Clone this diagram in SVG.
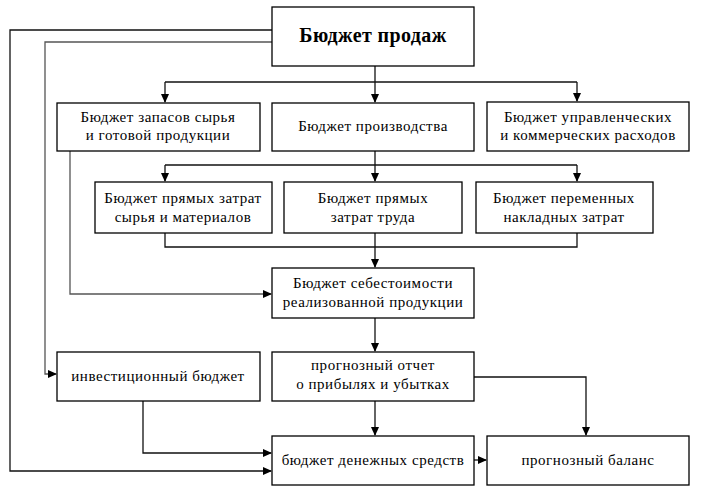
<svg xmlns="http://www.w3.org/2000/svg" width="705" height="495" viewBox="0 0 705 495">
<style>
.box{fill:#fff;stroke:#000;stroke-width:1.3}
.t{font-family:"Liberation Serif","Times New Roman","DejaVu Serif",serif;font-size:15px;letter-spacing:0.55px;fill:#000;text-anchor:middle}
.b{font-weight:bold;font-size:20px;letter-spacing:0.4px}
.c{fill:none;stroke:#111;stroke-width:1.3}
.g{stroke:#555}
</style>
<defs>
<marker id="ah" markerWidth="9" markerHeight="8" refX="8" refY="4" orient="auto" markerUnits="userSpaceOnUse">
<path d="M0,0 L9,4 L0,8 Z" fill="#000"/>
</marker>
</defs>
<rect width="705" height="495" fill="#fff"/>
<g id="connectors">
<path class="c" d="M272,30 H10 V471 H271" marker-end="url(#ah)"/>
<path class="c g" d="M272,42 H45 V374 H56" marker-end="url(#ah)"/>
<path class="c" d="M375,66 V82"/>
<path class="c" d="M165,82 H577"/>
<path class="c" d="M165,82 V102" marker-end="url(#ah)"/>
<path class="c" d="M375,82 V102" marker-end="url(#ah)"/>
<path class="c" d="M577,82 V101" marker-end="url(#ah)"/>
<path class="c g" d="M70,151 V294 H271" marker-end="url(#ah)"/>
<path class="c" d="M375,151 V165"/>
<path class="c" d="M165,165 H577"/>
<path class="c" d="M165,165 V181" marker-end="url(#ah)"/>
<path class="c" d="M375,165 V181" marker-end="url(#ah)"/>
<path class="c" d="M577,165 V181" marker-end="url(#ah)"/>
<path class="c" d="M165,233 V247 H577 V233"/>
<path class="c" d="M375,233 V267" marker-end="url(#ah)"/>
<path class="c" d="M375,318 V351" marker-end="url(#ah)"/>
<path class="c" d="M474,377 H586 V435" marker-end="url(#ah)"/>
<path class="c" d="M375,401 V435" marker-end="url(#ah)"/>
<path class="c" d="M143,401 V453 H271" marker-end="url(#ah)"/>
<path class="c" d="M474,460 H486" marker-end="url(#ah)"/>
</g>
<g id="n-sales"><rect class="box" x="272" y="7" width="202" height="59"/><text class="t b" x="373" y="42">Бюджет продаж</text></g>
<g id="n-stock"><rect class="box" x="57" y="103" width="203" height="48"/><text class="t" x="158" y="122">Бюджет запасов сырья</text><text class="t" x="158" y="140">и готовой продукции</text></g>
<g id="n-prod"><rect class="box" x="272" y="103" width="202" height="48"/><text class="t" x="373" y="131">Бюджет производства</text></g>
<g id="n-admin"><rect class="box" x="487" y="102" width="202" height="49"/><text class="t" x="588" y="122">Бюджет управленческих</text><text class="t" x="588" y="140">и коммерческих расходов</text></g>
<g id="n-mat"><rect class="box" x="95" y="182" width="177" height="51"/><text class="t" x="183" y="203">Бюджет прямых затрат</text><text class="t" x="183" y="222">сырья и материалов</text></g>
<g id="n-labor"><rect class="box" x="284" y="182" width="178" height="51"/><text class="t" x="373" y="203">Бюджет прямых</text><text class="t" x="373" y="222">затрат труда</text></g>
<g id="n-overhead"><rect class="box" x="476" y="182" width="177" height="51"/><text class="t" x="564" y="203">Бюджет переменных</text><text class="t" x="564" y="222">накладных затрат</text></g>
<g id="n-cost"><rect class="box" x="272" y="268" width="202" height="50"/><text class="t" x="373" y="288">Бюджет себестоимости</text><text class="t" x="373" y="307">реализованной продукции</text></g>
<g id="n-invest"><rect class="box" x="57" y="352" width="203" height="49"/><text class="t" x="158" y="381">инвестиционный бюджет</text></g>
<g id="n-report"><rect class="box" x="272" y="352" width="202" height="49"/><text class="t" x="373" y="370">прогнозный отчет</text><text class="t" x="373" y="389">о прибылях и убытках</text></g>
<g id="n-cash"><rect class="box" x="272" y="436" width="202" height="49"/><text class="t" x="373" y="465">бюджет денежных средств</text></g>
<g id="n-balance"><rect class="box" x="487" y="436" width="202" height="49"/><text class="t" x="588" y="465">прогнозный баланс</text></g>
</svg>
